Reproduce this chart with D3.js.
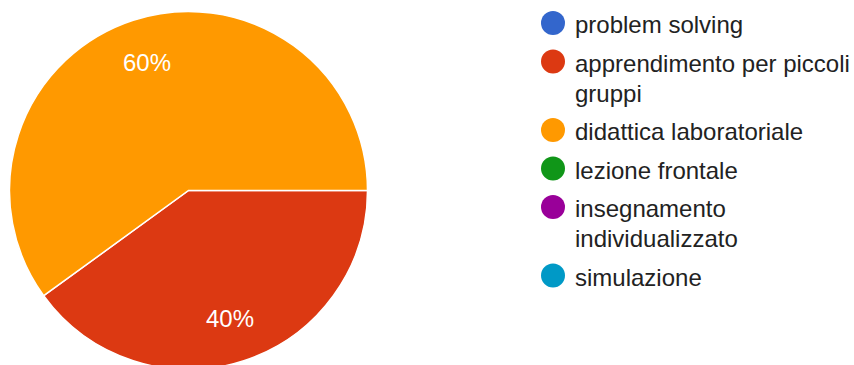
<!DOCTYPE html>
<html>
<head>
<meta charset="utf-8">
<script src="https://cdn.jsdelivr.net/npm/d3@7"></script>
<style>
  html, body { margin: 0; padding: 0; background: #fff; }
  svg { display: block; }
</style>
</head>
<body>
<svg id="chart" width="854" height="365"></svg>
<script>
const categories = ["problem solving", "apprendimento per piccoli gruppi", "didattica laboratoriale", "lezione frontale", "insegnamento individualizzato", "simulazione"];
const legendLines = [["problem solving"], ["apprendimento per piccoli", "gruppi"], ["didattica laboratoriale"], ["lezione frontale"], ["insegnamento", "individualizzato"], ["simulazione"]];
const counts = [0, 2, 3, 0, 0, 0];
const colors = ["#3366cc", "#dc3912", "#ff9900", "#109618", "#990099", "#0099c6"];

const svg = d3.select("#chart");
const font = "'Liberation Sans', Arial, sans-serif";
const cx = 188.5, cy = 190.5, r = 179;

const data = categories.map((c, i) => ({ name: c, value: counts[i], color: colors[i], i }));
const pie = d3.pie().value(d => d.value).sort(null).startAngle(Math.PI / 2).endAngle(Math.PI / 2 + 2 * Math.PI);
const arcs = pie(data);
const arc = d3.arc().innerRadius(0).outerRadius(r);
const labelArc = d3.arc().innerRadius(r * 0.75).outerRadius(r * 0.75);
const total = d3.sum(counts);

const g = svg.append("g").attr("transform", `translate(${cx},${cy})`);
g.selectAll("path").data(arcs.filter(a => a.data.value > 0)).join("path")
  .attr("d", arc)
  .attr("fill", d => d.data.color)
  .attr("stroke", "#fff")
  .attr("stroke-width", 1.5);

g.selectAll("text").data(arcs.filter(a => a.data.value > 0)).join("text")
  .attr("x", d => labelArc.centroid(d)[0])
  .attr("y", d => labelArc.centroid(d)[1])
  .attr("dy", "0.35em")
  .attr("text-anchor", "middle")
  .attr("fill", "#fff")
  .attr("font-family", font)
  .attr("font-size", 24)
  .text(d => Math.round(d.data.value / total * 100) + "%");

// legend
const lg = svg.append("g");
let y = 33;
legendLines.forEach((lines, i) => {
  lg.append("circle").attr("cx", 553).attr("cy", y - 10).attr("r", 12).attr("fill", colors[i]);
  lines.forEach((t, j) => {
    lg.append("text").attr("x", 575).attr("y", y + j * 30)
      .attr("font-family", font).attr("font-size", 24).attr("fill", "#222")
      .text(t);
  });
  y += 38.5 + (lines.length - 1) * 30;
});
</script>
</body>
</html>
